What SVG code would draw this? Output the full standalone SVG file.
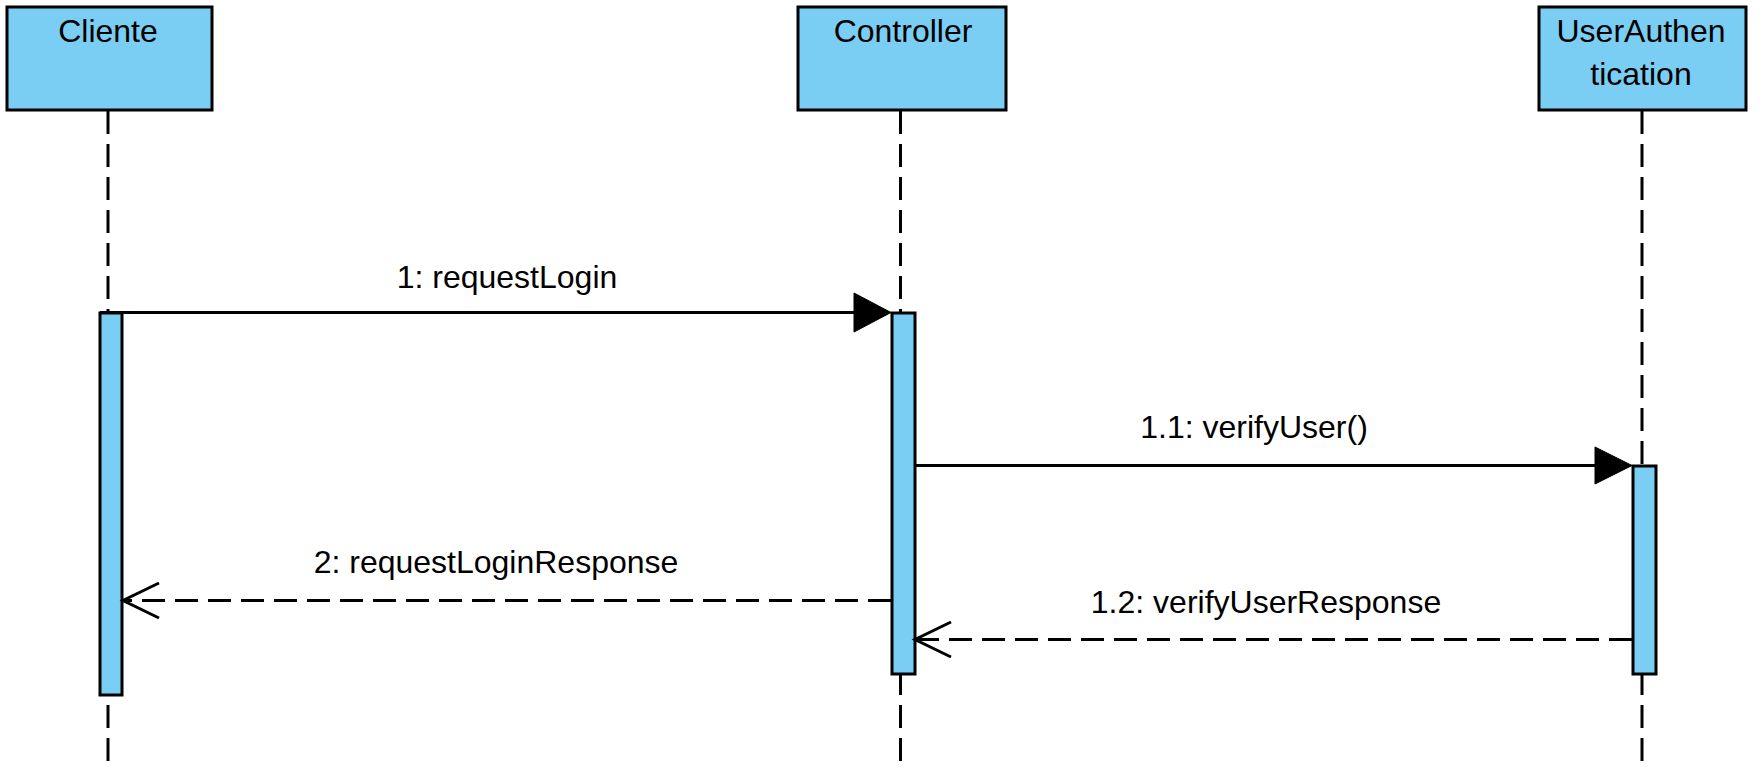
<svg xmlns="http://www.w3.org/2000/svg" width="1761" height="783" viewBox="0 0 1761 783">
<style>
.box{fill:#7ACEF4;stroke:#000;stroke-width:3}
.life{stroke:#000;stroke-width:3;stroke-dasharray:23 10;fill:none}
.msg{stroke:#000;stroke-width:3;fill:none}
.ret{stroke:#000;stroke-width:3;fill:none;stroke-dasharray:23 10}
.head{fill:#000;stroke:#000;stroke-width:1}
.open{fill:none;stroke:#000;stroke-width:3}
text{font-family:"Liberation Sans",Arial,sans-serif;font-size:32px;fill:#000;text-anchor:middle}
</style>
<rect width="1761" height="783" fill="#fff"/>
<g id="lifelines">
<line class="life" x1="108" y1="111" x2="108" y2="762"/>
<line class="life" x1="900.5" y1="111" x2="900.5" y2="762"/>
<line class="life" x1="1642" y1="111" x2="1642" y2="762"/>
</g>
<g id="Cliente">
<rect class="box" x="7" y="7" width="205" height="103"/>
<text x="108" y="42">Cliente</text>
<rect class="box" x="100" y="313" width="22" height="382"/>
</g>
<g id="Controller">
<rect class="box" x="798" y="7" width="208" height="103"/>
<text x="903" y="42">Controller</text>
<rect class="box" x="892" y="313" width="23" height="361"/>
</g>
<g id="UserAuthentication">
<rect class="box" x="1539" y="7" width="207" height="103"/>
<text x="1641" y="42">UserAuthen</text>
<text x="1641" y="85">tication</text>
<rect class="box" x="1633" y="466" width="23" height="208"/>
</g>
<g id="connectors">
<line class="msg" x1="100" y1="312.5" x2="856" y2="312.5"/>
<polygon class="head" points="854,293 891,312.5 854,332"/>
<text x="507" y="288">1: requestLogin</text>
<line class="msg" x1="915" y1="465.5" x2="1597" y2="465.5"/>
<polygon class="head" points="1595,447 1632,465.5 1595,484"/>
<text x="1254" y="438">1.1: verifyUser()</text>
<line class="ret" x1="891" y1="600.5" x2="125" y2="600.5"/>
<polyline class="open" points="159,583 123,600.5 159,618"/>
<text x="496" y="573">2: requestLoginResponse</text>
<line class="ret" x1="1632" y1="639.5" x2="917" y2="639.5"/>
<polyline class="open" points="951,622 915,639.5 951,657"/>
<text x="1266" y="613">1.2: verifyUserResponse</text>
</g>
</svg>
